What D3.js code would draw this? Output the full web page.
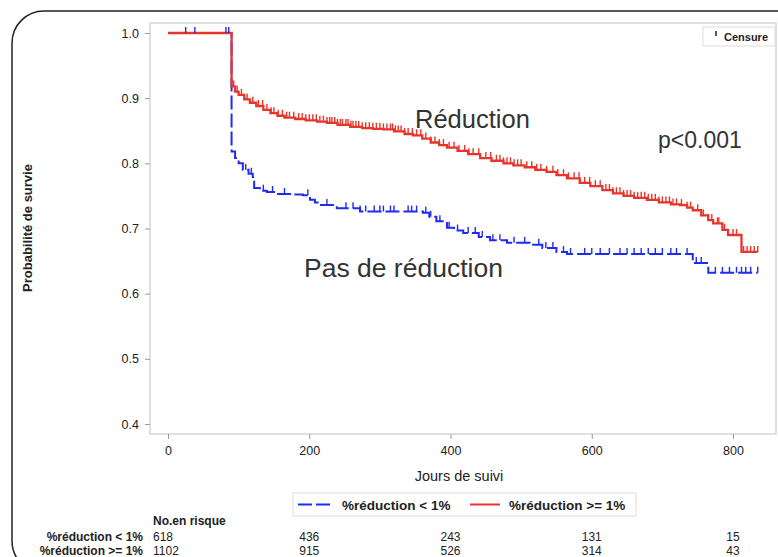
<!DOCTYPE html>
<html>
<head>
<meta charset="utf-8">
<script src="https://cdn.jsdelivr.net/npm/d3@7"></script>
<style>
  body { margin: 0; background: #fff; }
  text { font-family: "Liberation Sans", Arial, sans-serif; }
</style>
</head>
<body>
<svg width="778" height="557"></svg>
<script>
// survival curves (day, probability), step after
var redTimes = [0, 90, 95, 100, 108, 116, 125, 135, 145, 155, 165, 180, 195, 211, 225, 240, 258, 275, 290, 305, 320, 335, 347, 360, 372, 384, 395, 410, 425, 442, 458, 475, 489, 505, 520, 536, 550, 565, 583, 598, 615, 630, 645, 660, 678, 695, 712, 725, 735, 743, 755, 765, 772, 785, 793, 812, 835];
var redSurv  = [1.0, 0.918, 0.910, 0.905, 0.898, 0.893, 0.888, 0.882, 0.877, 0.873, 0.870, 0.868, 0.866, 0.864, 0.862, 0.859, 0.856, 0.854, 0.853, 0.852, 0.849, 0.845, 0.843, 0.838, 0.832, 0.828, 0.824, 0.819, 0.814, 0.808, 0.804, 0.800, 0.797, 0.794, 0.790, 0.787, 0.782, 0.777, 0.770, 0.765, 0.759, 0.754, 0.750, 0.747, 0.744, 0.740, 0.737, 0.736, 0.732, 0.728, 0.720, 0.713, 0.708, 0.698, 0.690, 0.664, 0.664];

var blueTimes = [0, 90, 95, 100, 106, 114, 120, 122, 130, 140, 154, 175, 191, 201, 208, 215, 239, 272, 300, 361, 370, 380, 395, 405, 418, 440, 456, 480, 512, 530, 550, 565, 743, 765, 835];
var blueSurv  = [1.0, 0.818, 0.808, 0.800, 0.790, 0.784, 0.779, 0.762, 0.758, 0.756, 0.753, 0.752, 0.751, 0.744, 0.740, 0.736, 0.731, 0.726, 0.726, 0.724, 0.718, 0.711, 0.701, 0.697, 0.693, 0.687, 0.682, 0.678, 0.675, 0.670, 0.664, 0.661, 0.647, 0.632, 0.632];

// censored observations (days)
var redCensor = [93, 98, 104, 112, 120, 128, 134, 140, 146, 150, 156, 162, 168, 172, 178, 185, 190, 195, 200, 205, 210, 215, 220, 225, 229, 232, 236, 240, 244, 247, 252, 255, 259, 262, 266, 270, 275, 280, 285, 290, 295, 300, 305, 310, 315, 318, 322, 326, 330, 335, 340, 346, 352, 358, 365, 372, 378, 384, 390, 398, 405, 412, 420, 426, 432, 440, 450, 457, 465, 470, 475, 480, 485, 490, 495, 500, 508, 515, 522, 528, 536, 545, 552, 560, 567, 575, 582, 590, 597, 605, 612, 620, 625, 630, 635, 640, 645, 650, 655, 660, 665, 670, 675, 680, 685, 690, 695, 700, 705, 710, 715, 720, 727, 735, 740, 750, 758, 765, 770, 778, 780, 788, 800, 805, 815, 820, 825, 830, 835];
var blueCensor = [25, 38, 82, 86, 110, 118, 135, 148, 165, 198, 225, 252, 262, 272, 280, 292, 300, 305, 315, 320, 340, 345, 352, 365, 372, 385, 398, 410, 425, 435, 445, 460, 470, 490, 505, 525, 535, 545, 560, 570, 590, 600, 612, 625, 640, 650, 660, 670, 680, 690, 700, 712, 720, 735, 748, 755, 775, 785, 795, 805, 812, 818, 825, 835];

var xTicks = [0, 200, 400, 600, 800];
var yTicks = [0.4, 0.5, 0.6, 0.7, 0.8, 0.9, 1.0];

var groupLabels = ["%réduction < 1%", "%réduction >= 1%"];
var riskLow  = [618, 436, 243, 131, 15];
var riskHigh = [1102, 915, 526, 314, 43];

var RED = "#e8342a", BLUE = "#1f2bf2";

var svg = d3.select("svg");

// slide border
svg.append("rect")
  .attr("x", 12).attr("y", 11).attr("width", 820).attr("height", 562)
  .attr("rx", 32).attr("fill", "none").attr("stroke", "#222").attr("stroke-width", 1.5);

var x = d3.scaleLinear().domain([0, 800]).range([168, 733]);
var y = d3.scaleLinear().domain([0.4, 1.0]).range([424, 33]);

var fl = 150, ft = 23, fr = 776, fb = 434;

// frame
svg.append("rect")
  .attr("x", fl).attr("y", ft).attr("width", fr - fl).attr("height", fb - ft)
  .attr("fill", "none").attr("stroke", "#cfcfcf").attr("stroke-width", 1.3);

// axes
var yAxis = svg.append("g").attr("transform", "translate(" + fl + ",0)")
  .call(d3.axisLeft(y).tickValues(yTicks).tickFormat(d3.format(".1f")).tickSize(5).tickPadding(6));
var xAxis = svg.append("g").attr("transform", "translate(0," + fb + ")")
  .call(d3.axisBottom(x).tickValues(xTicks).tickSize(5).tickPadding(7));
[yAxis, xAxis].forEach(function(g) {
  g.select(".domain").remove();
  g.selectAll(".tick line").attr("stroke", "#999");
  g.selectAll(".tick text").attr("fill", "#222").style("font-size", "12.5px")
    .style("font-family", "'Liberation Sans', Arial, sans-serif");
});

svg.append("text").attr("transform", "translate(32,228) rotate(-90)")
  .attr("text-anchor", "middle").style("font-size", "13px").style("font-weight", "bold")
  .attr("fill", "#222").text("Probabilité de survie");
svg.append("text").attr("x", 459).attr("y", 481).attr("text-anchor", "middle")
  .style("font-size", "14.5px").attr("fill", "#222").text("Jours de suivi");

// curves
function pts(t, s) { return t.map(function(d, i) { return [d, s[i]]; }); }
var line = d3.line().x(function(d) { return x(d[0]); }).y(function(d) { return y(d[1]); })
  .curve(d3.curveStepAfter);

function survAt(t, s, day) {
  var v = s[0];
  for (var i = 0; i < t.length; i++) { if (t[i] <= day) v = s[i]; }
  return v;
}

svg.append("path").datum(pts(blueTimes, blueSurv)).attr("d", line)
  .attr("fill", "none").attr("stroke", BLUE).attr("stroke-width", 2)
  .attr("stroke-dasharray", "14,4");
svg.append("path").datum(pts(redTimes, redSurv)).attr("d", line)
  .attr("fill", "none").attr("stroke", RED).attr("stroke-width", 2.3);

function censor(days, t, s, col) {
  svg.append("g").selectAll("line").data(days).enter().append("line")
    .attr("x1", function(d) { return x(d); }).attr("x2", function(d) { return x(d); })
    .attr("y1", function(d) { return y(survAt(t, s, d)); })
    .attr("y2", function(d) { return y(survAt(t, s, d)) - 6; })
    .attr("stroke", col).attr("stroke-width", 1.4);
}
censor(blueCensor, blueTimes, blueSurv, BLUE);
censor(redCensor, redTimes, redSurv, RED);

// annotations
svg.append("text").attr("x", 415).attr("y", 128).style("font-size", "25.5px").attr("fill", "#333").text("Réduction");
svg.append("text").attr("x", 658).attr("y", 148).style("font-size", "23px").attr("fill", "#333").text("p<0.001");
svg.append("text").attr("x", 304).attr("y", 277).style("font-size", "26.5px").attr("fill", "#333").text("Pas de réduction");

// censure legend
svg.append("rect").attr("x", 703).attr("y", 27).attr("width", 72).attr("height", 19)
  .attr("fill", "#fff").attr("stroke", "#ddd");
svg.append("line").attr("x1", 716).attr("x2", 716).attr("y1", 31).attr("y2", 36)
  .attr("stroke", "#222").attr("stroke-width", 1.5);
svg.append("text").attr("x", 724).attr("y", 41).style("font-size", "11px").style("font-weight", "bold")
  .attr("fill", "#222").text("Censure");

// group legend
svg.append("rect").attr("x", 293).attr("y", 493).attr("width", 343).attr("height", 23)
  .attr("fill", "#fff").attr("stroke", "#ddd");
svg.append("line").attr("x1", 298).attr("x2", 334).attr("y1", 504.5).attr("y2", 504.5)
  .attr("stroke", BLUE).attr("stroke-width", 2).attr("stroke-dasharray", "14,4");
svg.append("text").attr("x", 342).attr("y", 509.5).style("font-size", "13.5px").style("font-weight", "bold")
  .attr("fill", "#222").text(groupLabels[0]);
svg.append("line").attr("x1", 470).attr("x2", 500).attr("y1", 504.5).attr("y2", 504.5)
  .attr("stroke", RED).attr("stroke-width", 2);
svg.append("text").attr("x", 509).attr("y", 509.5).style("font-size", "13.5px").style("font-weight", "bold")
  .attr("fill", "#222").text(groupLabels[1]);

// number at risk
svg.append("text").attr("x", 153).attr("y", 525).style("font-size", "12px").style("font-weight", "bold")
  .attr("fill", "#222").text("No.en risque");
[riskLow, riskHigh].forEach(function(row, r) {
  var yy = 541 + r * 14;
  svg.append("text").attr("x", 143).attr("y", yy).attr("text-anchor", "end")
    .style("font-size", "12px").style("font-weight", "bold").attr("fill", "#222").text(groupLabels[r]);
  svg.append("g").selectAll("text").data(row).enter().append("text")
    .attr("x", function(d, i) { return i === 0 ? 153 : x(xTicks[i]); })
    .attr("y", yy).attr("text-anchor", function(d, i) { return i === 0 ? "start" : "middle"; })
    .style("font-size", "12px").attr("fill", "#222").text(function(d) { return d; });
});
</script>
</body>
</html>
